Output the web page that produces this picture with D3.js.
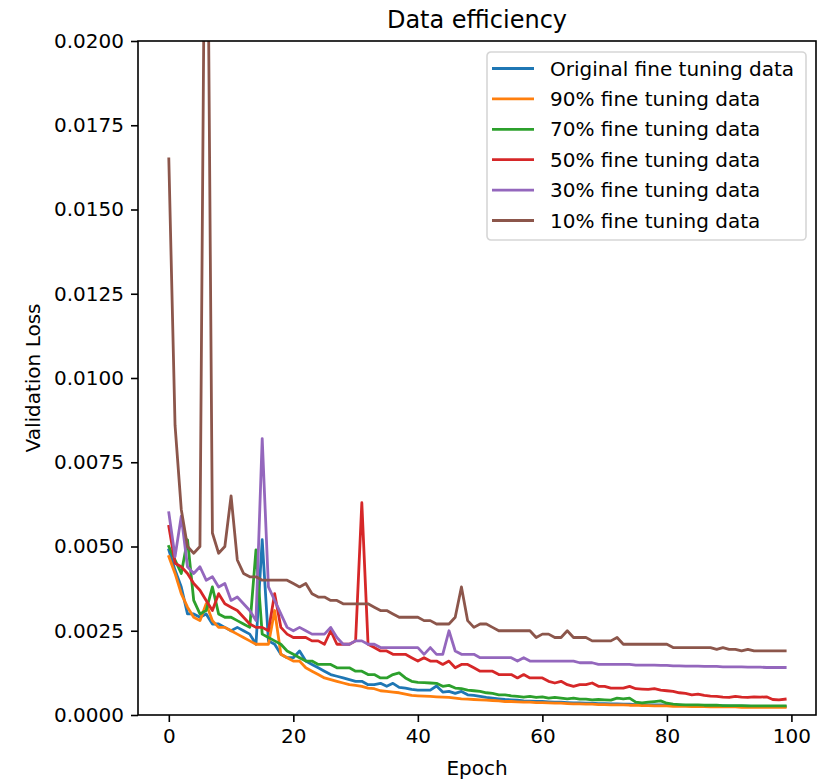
<!DOCTYPE html>
<html>
<head>
<meta charset="utf-8">
<script src="https://cdn.jsdelivr.net/npm/d3@7/dist/d3.min.js"></script>
<style>
  body { margin: 0; background: #fff; }
  svg { font-family: "DejaVu Sans", sans-serif; }
</style>
</head>
<body>
<div id="chart"></div>
<script>
// Validation loss per epoch
const seriesNames = [
  'Original fine tuning data',
  '90% fine tuning data',
  '70% fine tuning data',
  '50% fine tuning data',
  '30% fine tuning data',
  '10% fine tuning data',
];

const lossOriginal = [
  0.0049, 0.0043, 0.0038, 0.0030, 0.0030, 0.0029, 0.0030, 0.0027, 0.0027, 0.0026,
  0.0025, 0.0026, 0.0025, 0.0024, 0.0021, 0.0052, 0.0022, 0.0021, 0.0018, 0.0017,
  0.0017, 0.0019, 0.0016, 0.0015, 0.0014, 0.0013, 0.0012, 0.00115, 0.0011, 0.00105,
  0.0010, 0.0010, 0.0009, 0.0009, 0.00094, 0.00085, 0.00094, 0.00082, 0.0008, 0.00076,
  0.00074, 0.00074, 0.00074, 0.00086, 0.00068, 0.0007, 0.00064, 0.0007, 0.0006, 0.00058,
  0.00055, 0.00052, 0.0005, 0.00048, 0.00046, 0.00045, 0.00044, 0.00042, 0.00041, 0.0004,
  0.0004, 0.00039, 0.00038, 0.00038, 0.00037, 0.00036, 0.00036, 0.00035, 0.00035, 0.00034,
  0.00034, 0.00033, 0.00033, 0.00032, 0.00032, 0.00031, 0.00031, 0.0003, 0.0003, 0.0003,
  0.00029, 0.00029, 0.00029, 0.00028, 0.00028, 0.00028, 0.00027, 0.00027, 0.00027, 0.00027,
  0.00026, 0.00026, 0.00026, 0.00026, 0.00025, 0.00025, 0.00025, 0.00025, 0.00025, 0.00025,
];

const loss90 = [
  0.0047, 0.0042, 0.0036, 0.0032, 0.0029, 0.0028, 0.0033, 0.0028, 0.0026, 0.0026,
  0.0025, 0.0024, 0.0023, 0.0022, 0.0021, 0.0021, 0.0021, 0.0031, 0.0018, 0.0017,
  0.0016, 0.0016, 0.0014, 0.0013, 0.0012, 0.0011, 0.00105, 0.001, 0.00095, 0.0009,
  0.00088, 0.00085, 0.0008, 0.00078, 0.00072, 0.0007, 0.00068, 0.00066, 0.00062, 0.00058,
  0.00057, 0.00056, 0.00055, 0.00054, 0.00053, 0.00052, 0.0005, 0.00048, 0.00047, 0.00046,
  0.00045, 0.00044, 0.00043, 0.00042, 0.0004, 0.0004, 0.00039, 0.00038, 0.00038, 0.00037,
  0.00037, 0.00036, 0.00035, 0.00035, 0.00034, 0.00033, 0.00033, 0.00032, 0.00032, 0.00031,
  0.00031, 0.0003, 0.0003, 0.0003, 0.00029, 0.00029, 0.00028, 0.00028, 0.00027, 0.00027,
  0.00027, 0.00026, 0.00026, 0.00026, 0.00025, 0.00025, 0.00025, 0.00024, 0.00024, 0.00024,
  0.00024, 0.00024, 0.00023, 0.00023, 0.00023, 0.00023, 0.00023, 0.00023, 0.00023, 0.00023,
];

const loss70 = [
  0.0050, 0.0046, 0.0042, 0.0052, 0.0034, 0.0030, 0.0031, 0.0038, 0.0030, 0.0029,
  0.0029, 0.0028, 0.0027, 0.0026, 0.0049, 0.0024, 0.0023, 0.0022, 0.0021, 0.0019,
  0.0018, 0.0017, 0.0016, 0.0016, 0.0015, 0.0015, 0.0015, 0.0014, 0.0014, 0.0014,
  0.0013, 0.0013, 0.0012, 0.0012, 0.0011, 0.0011, 0.0012, 0.00125, 0.0011, 0.001,
  0.00097, 0.00096, 0.00095, 0.00094, 0.00085, 0.00088, 0.0008, 0.00078, 0.00074, 0.00072,
  0.0007, 0.00066, 0.00064, 0.0006, 0.0006, 0.00057, 0.00055, 0.00053, 0.00055, 0.00052,
  0.00054, 0.0005, 0.00052, 0.0005, 0.00048, 0.0005, 0.00047, 0.00047, 0.00045, 0.00046,
  0.00045, 0.00044, 0.0005, 0.00048, 0.0005, 0.00038, 0.00036, 0.00038, 0.0004, 0.00042,
  0.00035, 0.00032, 0.00031, 0.0003, 0.0003, 0.0003, 0.00029, 0.00029, 0.00029, 0.00028,
  0.00028, 0.00028, 0.00028, 0.00027, 0.00027, 0.00027, 0.00027, 0.00027, 0.00027, 0.00027,
];

const loss50 = [
  0.0056, 0.0045, 0.0044, 0.0042, 0.0039, 0.0037, 0.0034, 0.0031, 0.0036, 0.0033,
  0.0032, 0.0031, 0.0029, 0.0027, 0.0026, 0.0026, 0.0025, 0.0036, 0.0026, 0.0024,
  0.0023, 0.0023, 0.0023, 0.0022, 0.0022, 0.0021, 0.0025, 0.0021, 0.0021, 0.0021,
  0.0022, 0.0063, 0.0021, 0.0020, 0.0019, 0.0019, 0.0018, 0.0018, 0.0018, 0.0017,
  0.0016, 0.0017, 0.0016, 0.0016, 0.0015, 0.0016, 0.0014, 0.0015, 0.0015, 0.0014,
  0.0013, 0.0013, 0.0013, 0.0012, 0.0012, 0.0012, 0.0011, 0.0012, 0.0011, 0.0011,
  0.0011, 0.0010, 0.00095, 0.0010, 0.0009, 0.00085, 0.0009, 0.0009, 0.00095, 0.00085,
  0.00085, 0.0008, 0.0008, 0.0008, 0.00085, 0.00078, 0.00077, 0.00076, 0.00078, 0.00074,
  0.00072, 0.0007, 0.00066, 0.00064, 0.0006, 0.00062, 0.00058, 0.00056, 0.00055, 0.00053,
  0.00052, 0.00055, 0.00053, 0.00052, 0.00054, 0.00053, 0.00054, 0.00046, 0.00045, 0.00047,
];

const loss30 = [
  0.0060, 0.0047, 0.0059, 0.0044, 0.0042, 0.0044, 0.0040, 0.0041, 0.0038, 0.0039,
  0.0034, 0.0035, 0.0033, 0.0031, 0.0028, 0.0082, 0.0038, 0.0034, 0.0030, 0.0026,
  0.0025, 0.0026, 0.0025, 0.0024, 0.0024, 0.0024, 0.0026, 0.0023, 0.0021, 0.0021,
  0.0022, 0.0022, 0.0021, 0.0021, 0.0020, 0.0020, 0.0020, 0.0020, 0.0020, 0.0020,
  0.0020, 0.0018, 0.0020, 0.0018, 0.0018, 0.0025, 0.0019, 0.0018, 0.0018, 0.0018,
  0.0017, 0.0017, 0.0017, 0.0017, 0.0017, 0.0017, 0.0016, 0.0017, 0.0016, 0.0016,
  0.0016, 0.0016, 0.0016, 0.0016, 0.0016, 0.0016, 0.00155, 0.00155, 0.00155, 0.0015,
  0.0015, 0.0015, 0.0015, 0.0015, 0.0015, 0.00148, 0.00148, 0.00148, 0.00148, 0.00147,
  0.00147, 0.00146, 0.00146, 0.00145, 0.00145, 0.00145, 0.00144, 0.00144, 0.00144, 0.00143,
  0.00143, 0.00143, 0.00143, 0.00142, 0.00142, 0.00142, 0.00141, 0.00141, 0.00141, 0.00141,
];

const loss10 = [
  0.0165, 0.0086, 0.0061, 0.0050, 0.0048, 0.0050, 0.0300, 0.0054, 0.0048, 0.0050,
  0.0065, 0.0046, 0.0042, 0.0041, 0.0041, 0.0040, 0.0040, 0.0040, 0.0040, 0.0040,
  0.0039, 0.0038, 0.0039, 0.0036, 0.0035, 0.0035, 0.0034, 0.0034, 0.0033, 0.0033,
  0.0033, 0.0033, 0.0033, 0.0032, 0.0031, 0.0031, 0.0030, 0.0029, 0.0029, 0.0029,
  0.0029, 0.0028, 0.0028, 0.0027, 0.0027, 0.0027, 0.0029, 0.0038, 0.0028, 0.0026,
  0.0027, 0.0027, 0.0026, 0.0025, 0.0025, 0.0025, 0.0025, 0.0025, 0.0025, 0.0023,
  0.0024, 0.0024, 0.0023, 0.0023, 0.0025, 0.0023, 0.0023, 0.0023, 0.0022, 0.0022,
  0.0022, 0.0022, 0.0023, 0.0021, 0.0021, 0.0021, 0.0021, 0.0021, 0.0021, 0.0021,
  0.0021, 0.0020, 0.0020, 0.0020, 0.0020, 0.0020, 0.0020, 0.0020, 0.00195, 0.0020,
  0.00195, 0.00195, 0.0019, 0.00195, 0.0019, 0.0019, 0.0019, 0.0019, 0.0019, 0.0019,
];

const xTicks = [0, 20, 40, 60, 80, 100];
const yTicks = [0, 0.0025, 0.005, 0.0075, 0.01, 0.0125, 0.015, 0.0175, 0.02];
const lineColors = ['#1f77b4', '#ff7f0e', '#2ca02c', '#d62728', '#9467bd', '#8c564b'];

const allSeries = [lossOriginal, loss90, loss70, loss50, loss30, loss10];

/**
 * Figure layout (pixels)
 */
const width = 817;
const height = 780;
const plot = { left: 138, top: 41, right: 816, bottom: 715 };

const svg = d3.select('#chart').append('svg')
  .attr('width', width)
  .attr('height', height);

// matplotlib style x-range: 5% margin around the epochs
const xScale = d3.scaleLinear()
  .domain([-4.95, 103.95])
  .range([plot.left, plot.right]);

const yScale = d3.scaleLinear()
  .domain([0, 0.02])
  .range([plot.bottom, plot.top]);

svg.append('defs').append('clipPath')
  .attr('id', 'plot-clip')
  .append('rect')
  .attr('x', plot.left)
  .attr('y', plot.top)
  .attr('width', plot.right - plot.left)
  .attr('height', plot.bottom - plot.top);

// Loss curves
const line = d3.line()
  .x((d, i) => xScale(i))
  .y(d => yScale(d));

svg.append('g')
  .attr('class', 'lines')
  .attr('clip-path', 'url(#plot-clip)')
  .selectAll('path')
  .data(allSeries)
  .join('path')
  .attr('d', line)
  .attr('fill', 'none')
  .attr('stroke', (d, i) => lineColors[i])
  .attr('stroke-width', 2.8)
  .attr('stroke-linejoin', 'round')
  .attr('stroke-linecap', 'square');

/**
 * Axes
 */
const xAxis = svg.append('g')
  .attr('transform', 'translate(0,' + plot.bottom + ')')
  .call(d3.axisBottom(xScale).tickValues(xTicks).tickSize(7).tickPadding(7).tickFormat(d3.format('d')));

const yAxis = svg.append('g')
  .attr('transform', 'translate(' + plot.left + ',0)')
  .call(d3.axisLeft(yScale).tickValues(yTicks).tickSize(7).tickPadding(7).tickFormat(d3.format('.4f')));

[xAxis, yAxis].forEach(function (ax) {
  ax.select('.domain').remove();
  ax.selectAll('.tick line').attr('stroke', '#000').attr('stroke-width', 1.6);
  ax.selectAll('.tick text')
    .attr('fill', '#000')
    .style('font-size', '20px')
    .style('font-family', '"DejaVu Sans", sans-serif');
});

// Spines
svg.append('rect')
  .attr('x', plot.left)
  .attr('y', plot.top)
  .attr('width', plot.right - plot.left)
  .attr('height', plot.bottom - plot.top)
  .attr('fill', 'none')
  .attr('stroke', '#000')
  .attr('stroke-width', 1.6);

// Title and axis labels
svg.append('text')
  .attr('x', (plot.left + plot.right) / 2)
  .attr('y', 28)
  .attr('text-anchor', 'middle')
  .style('font-size', '24px')
  .text('Data efficiency');

svg.append('text')
  .attr('x', (plot.left + plot.right) / 2)
  .attr('y', 775)
  .attr('text-anchor', 'middle')
  .style('font-size', '20px')
  .text('Epoch');

svg.append('text')
  .attr('transform', 'translate(40,' + ((plot.top + plot.bottom) / 2) + ') rotate(-90)')
  .attr('text-anchor', 'middle')
  .style('font-size', '20px')
  .text('Validation Loss');

/**
 * Legend, upper right
 */
const legend = svg.append('g')
  .attr('transform', 'translate(487,52)');

legend.append('rect')
  .attr('width', 319)
  .attr('height', 188)
  .attr('rx', 4)
  .attr('fill', '#fff')
  .attr('fill-opacity', 0.8)
  .attr('stroke', '#d6d6d6')
  .attr('stroke-width', 1.6);

const rows = legend.selectAll('g.row')
  .data(seriesNames)
  .join('g')
  .attr('class', 'row')
  .attr('transform', (d, i) => 'translate(0,' + (16.5 + i * 30.4) + ')');

rows.append('line')
  .attr('x1', 5)
  .attr('x2', 47)
  .attr('stroke', (d, i) => lineColors[i])
  .attr('stroke-width', 2.8);

rows.append('text')
  .attr('x', 63)
  .attr('y', 7)
  .style('font-size', '20px')
  .text(d => d);
</script>
</body>
</html>
